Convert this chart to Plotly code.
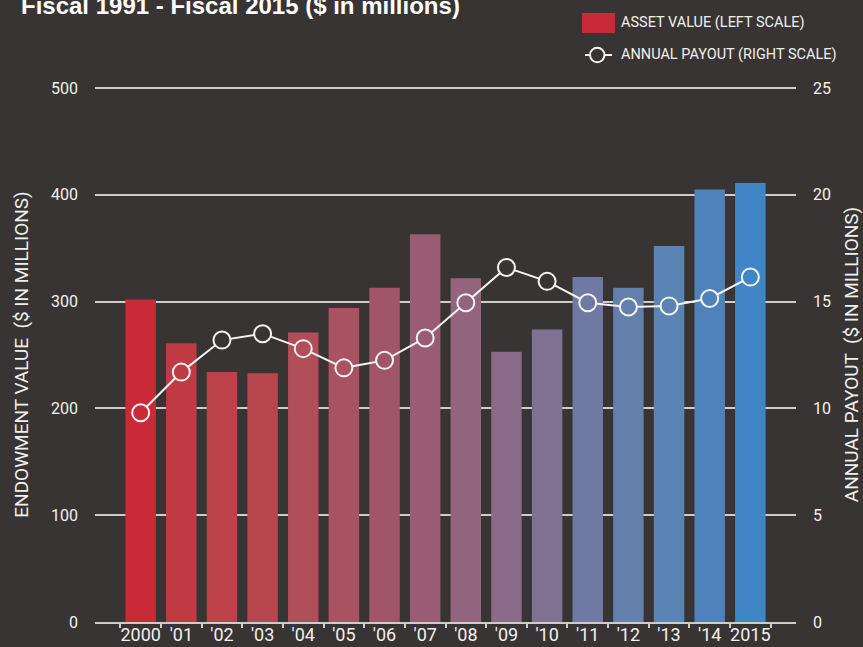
import plotly.graph_objects as go

# ---- data ----
years = ["2000", "'01", "'02", "'03", "'04", "'05", "'06", "'07", "'08",
         "'09", "'10", "'11", "'12", "'13", "'14", "2015"]
asset_value = [302, 261, 234, 233, 271, 294, 313, 363, 322,
               253, 274, 323, 313, 352, 405, 411]
annual_payout = [9.8, 11.7, 13.2, 13.5, 12.8, 11.9, 12.25, 13.3, 14.95,
                 16.6, 15.95, 14.95, 14.75, 14.8, 15.15, 16.15]
bar_colors = ["#c82a37", "#c03a43", "#bc4148", "#b7464e", "#b04e5a", "#a95262",
              "#a15569", "#995c74", "#93647e", "#8a6b89", "#7f7293", "#6f79a1",
              "#637fab", "#5984b4", "#4f82ba", "#3f86c8"]
left_ticks = [0, 100, 200, 300, 400, 500]
right_ticks = [0, 5, 10, 15, 20, 25]

BG = "#383433"
GRID = "#cfcdca"
TXT = "#f2f0ee"
NARROW = "Roboto, Liberation Sans, sans-serif"

# marker fill: show whatever lies beneath the (hollow-looking) circle
left_max, right_max = left_ticks[-1], right_ticks[-1]
marker_fill = [c if p / right_max * left_max < a else BG
               for p, a, c in zip(annual_payout, asset_value, bar_colors)]

fig = go.Figure()
fig.add_trace(go.Bar(
    x=years, y=asset_value, marker=dict(color=bar_colors, line=dict(width=0)),
    showlegend=False, yaxis="y"))
fig.add_trace(go.Scatter(
    x=years, y=annual_payout, mode="lines+markers", yaxis="y2",
    line=dict(color="#f4f4f4", width=2),
    marker=dict(size=17, color=marker_fill, line=dict(color="#f4f4f4", width=2)),
    showlegend=False))

W, H = 863, 647
L, R, T, B = 95, 67, 87, 25
pw, ph = W - L - R, H - T - B
pad = 1.002  # tiny headroom so the top gridline is drawn


def px(xp):
    return (xp - L) / pw


def py(yp):
    return (H - B - yp) / ph


fig.update_layout(
    width=W, height=H,
    margin=dict(l=L, r=R, t=T, b=B, autoexpand=False),
    paper_bgcolor=BG, plot_bgcolor=BG,
    bargap=0.25,
    showlegend=False,
    xaxis=dict(
        type="category", tickson="boundaries", ticks="outside", ticklen=4,
        tickwidth=1.5, tickcolor=GRID, showline=True, linecolor=GRID, linewidth=2,
        showgrid=False, tickfont=dict(family=NARROW, size=18, color=TXT),
        tickangle=0, ticklabelstandoff=-5, automargin=False,
    ),
    xaxis3=dict(
        overlaying="x", anchor="y", range=[-0.5, len(years) - 0.5],
        tickvals=[i - 0.5 for i in range(len(years) + 1)],
        ticks="inside", ticklen=4, tickwidth=1.5, tickcolor=GRID,
        showticklabels=False, showgrid=False, zeroline=False, showline=False,
        automargin=False,
    ),
    yaxis=dict(
        range=[0, left_max * pad], tickvals=left_ticks, showgrid=True, gridcolor=GRID,
        gridwidth=2, zeroline=False, showline=False, ticks="",
        tickfont=dict(family=NARROW, size=16, color=TXT), ticklabelstandoff=16,
        automargin=False,
        title=dict(text="ENDOWMENT VALUE  ($ IN MILLIONS)",
                   font=dict(family=NARROW, size=19, color=TXT), standoff=17),
    ),
    yaxis2=dict(
        range=[0, right_max * pad], tickvals=right_ticks, overlaying="y", side="right",
        showgrid=False, zeroline=False, showline=False, ticks="",
        tickfont=dict(family=NARROW, size=16, color=TXT), ticklabelstandoff=16,
        automargin=False,
        title=dict(text="ANNUAL PAYOUT  ($ IN MILLIONS)",
                   font=dict(family=NARROW, size=19, color=TXT), standoff=22),
    ),
)

# title (cut off at the top as in the reference)
fig.add_annotation(
    text="<b>Fiscal 1991 - Fiscal 2015 ($ in millions)</b>",
    xref="paper", yref="paper", x=px(19), y=py(6), xanchor="left", yanchor="middle",
    showarrow=False, font=dict(family="Liberation Sans, Arial, sans-serif", size=24, color="#ffffff"))

# custom legend
fig.add_shape(type="rect", xref="paper", yref="paper",
              x0=px(582), x1=px(615), y0=py(33), y1=py(13),
              fillcolor=bar_colors[0], line=dict(width=0))
fig.add_annotation(text="ASSET VALUE (LEFT SCALE)", xref="paper", yref="paper",
                   x=px(619), y=py(23), xanchor="left", yanchor="middle", showarrow=False,
                   font=dict(family=NARROW, size=14.5, color=TXT))
fig.add_shape(type="line", xref="paper", yref="paper",
              x0=px(585), x1=px(612), y0=py(55), y1=py(55),
              line=dict(color="#f4f4f4", width=2))
fig.add_shape(type="circle", xref="paper", yref="paper",
              x0=px(590), x1=px(604.5), y0=py(62.3), y1=py(47.7),
              fillcolor=BG, line=dict(color="#f4f4f4", width=2))
fig.add_annotation(text="ANNUAL PAYOUT (RIGHT SCALE)", xref="paper", yref="paper",
                   x=px(619), y=py(55), xanchor="left", yanchor="middle", showarrow=False,
                   font=dict(family=NARROW, size=14.5, color=TXT))

fig.write_html("out.html",
               config={"displayModeBar": False},
               post_script="document.body.style.margin='0';"
                           "document.documentElement.style.background='" + BG + "';"
                           "document.body.style.background='" + BG + "';")
